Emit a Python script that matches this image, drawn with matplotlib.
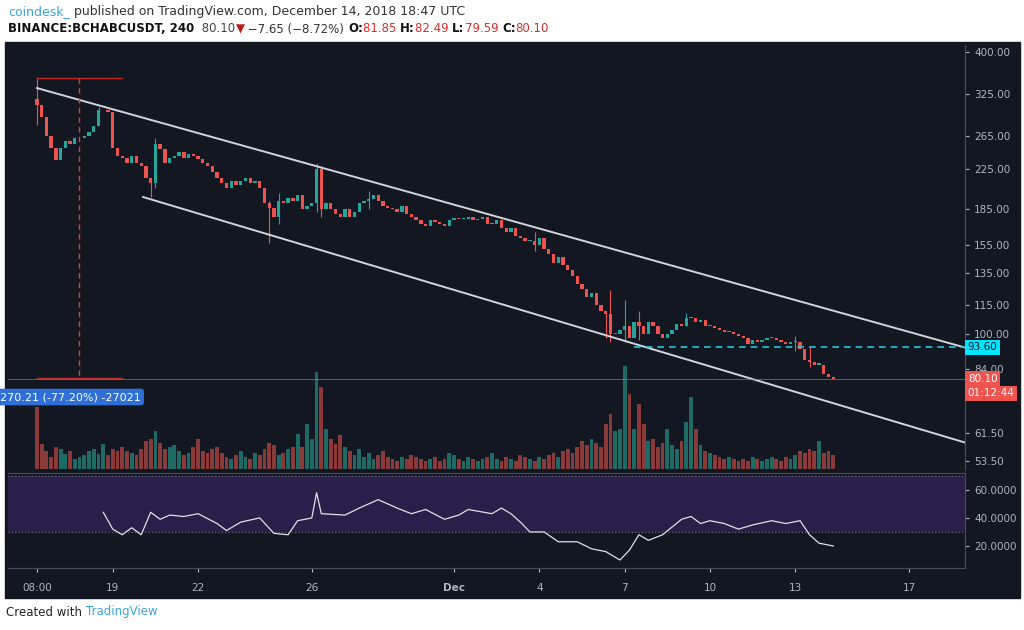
import numpy as np
import matplotlib
matplotlib.use("Agg")
import matplotlib.pyplot as plt
from matplotlib.patches import Rectangle

# 4h candles, index 0 = Nov 16 08:00
closes = [308, 290, 265, 250, 235, 250, 258, 255, 262, 262,
          265, 270, 278, 300, 300, 298, 250, 240, 238, 232,
          240, 232, 228, 215, 210, 255, 248, 232, 238, 240,
          245, 238, 242, 240, 236, 232, 228, 222, 215, 210,
          205, 212, 208, 212, 215, 210, 212, 205, 190, 186,
          178, 192, 190, 195, 192, 198, 185, 188, 190, 225,
          185, 190, 185, 180, 178, 185, 178, 182, 190, 192,
          194, 198, 192, 188, 186, 185, 182, 188, 180, 178,
          175, 172, 170, 175, 173, 172, 170, 175, 177, 176,
          176, 178, 175, 176, 178, 172, 172, 175, 168, 165,
          168, 162, 160, 158, 158, 155, 160, 152, 148, 142,
          146, 140, 137, 133, 128, 125, 120, 122, 115, 112,
          110, 100, 100, 102, 104, 98, 106, 104, 100, 106,
          104, 100, 98, 100, 102, 105, 104, 108, 108, 106,
          107, 104, 104, 103, 102, 101, 101, 100, 99, 98,
          95, 97, 96, 97, 98, 98, 97, 96, 95, 96,
          96, 93, 88, 87, 86, 86, 82, 81, 80.1]
first_open = 318

# notable wicks: index, high, low
wick_idx = [0, 13, 24, 25, 49, 51, 59, 60, 70, 105, 120, 121, 124, 127, 137, 160, 163]
wick_high = [352, 305, 215, 262, 192, 200, 232, 228, 202, 165, 112, 124, 118, 112, 111, 99, 94]
wick_low = [280, 285, 196, 205, 156, 172, 182, 178, 185, 150, 98, 96, 96, 97, 104, 92, 85]

volumes = [62, 25, 18, 12, 22, 20, 15, 18, 10, 12,
           14, 18, 20, 15, 25, 14, 20, 18, 22, 18,
           16, 14, 20, 28, 30, 38, 26, 20, 22, 24,
           18, 14, 16, 22, 30, 18, 16, 20, 22, 16,
           12, 10, 14, 18, 12, 10, 16, 14, 20, 26,
           24, 14, 16, 20, 22, 35, 22, 45, 30, 97,
           82, 40, 30, 25, 34, 22, 18, 14, 20, 12,
           16, 10, 14, 18, 12, 10, 8, 12, 10, 14,
           12, 10, 8, 10, 12, 8, 10, 16, 14, 10,
           8, 12, 10, 8, 10, 12, 16, 10, 8, 12,
           10, 8, 14, 12, 10, 8, 12, 10, 14, 16,
           12, 18, 20, 16, 22, 28, 24, 30, 26, 22,
           45, 55, 38, 40, 103, 75, 40, 65, 45, 28,
           30, 22, 26, 40, 24, 20, 28, 47, 72, 40,
           24, 18, 16, 14, 12, 10, 12, 10, 8, 10,
           8, 12, 10, 8, 10, 12, 10, 8, 12, 10,
           14, 18, 16, 20, 18, 28, 16, 18, 14]

rsi_idx = [14, 16, 18, 20, 22, 24, 26, 28, 31, 34, 38, 40, 43, 47, 50, 53, 55, 58, 59,
           60, 65, 68, 72, 76, 79, 82, 86, 89, 91, 96, 98, 100, 102, 104, 107, 110,
           114, 117, 120, 123, 125, 127, 129, 132, 136, 138, 140, 142, 145, 148, 151,
           155, 158, 161, 163, 165, 168]
rsi_val = [44, 32, 28, 33, 28, 44, 39, 42, 41, 43, 36, 31, 37, 40, 29, 28, 38, 40, 58,
           43, 42, 47, 53, 47, 43, 46, 39, 42, 46, 43, 47, 43, 37, 30, 30, 23,
           23, 18, 16, 10, 17, 28, 24, 28, 39, 41, 36, 38, 36, 32, 35,
           38, 36, 38, 28, 22, 20]

price_ticks = [400, 325, 265, 225, 185, 155, 135, 115, 100, 84, 61.5, 53.5]
date_pos = [0, 16, 34, 58, 88, 106, 124, 142, 160, 184]
date_labels = ["08:00", "19", "22", "26", "Dec", "4", "7", "10", "13", "17"]

BG = "#131722"
UP, DN = "#26a69a", "#ef5350"
VUP, VDN = "#1e6b65", "#8b3a3a"
GRID_TXT = "#b2b5be"

fig = plt.figure(figsize=(10.24, 6.3), dpi=100)
fig.patch.set_facecolor("white")
fig.patches.append(Rectangle((5 / 1024, 1 - 598 / 630), 1015 / 1024, 556 / 630,
                             transform=fig.transFigure, color=BG, zorder=-5))

ax = fig.add_axes([8 / 1024, 1 - 470 / 630, 957 / 1024, 425 / 630])
axv = ax.twinx()
ax.set_zorder(axv.get_zorder() + 1)
ax.patch.set_visible(False)
axv.patch.set_facecolor(BG)

n = len(closes)
opens = [first_open] + closes[:-1]
xs = np.arange(n)

# volume
vcol = [VUP if c >= o else VDN for o, c in zip(opens, closes)]
axv.bar(xs, volumes, width=0.8, color=vcol)
axv.set_ylim(-1, 425)
axv.set_yticks([])

# candles
for i in range(n):
    o, c = opens[i], closes[i]
    col = UP if c >= o else DN
    lo, hi = min(o, c), max(o, c)
    if i in wick_idx:
        k = wick_idx.index(i)
        ax.vlines(i, wick_low[k], wick_high[k], color=col, lw=0.8)
    ax.bar(i, hi - lo if hi > lo else 0.5, bottom=lo, width=0.7, color=col)

ax.set_yscale("log")
ax.set_ylim(51.2, 414)
ax.set_xlim(-6.1, 195.8)

# channel
ax.plot([0, 195.8], [335, 93.5], color="#d1d4dc", lw=1.4)
ax.plot([22.4, 195.8], [196, 58.6], color="#d1d4dc", lw=1.4)

# measure tool
ax.plot([0, 18], [352, 352], color="#c62828", lw=1)
ax.plot([0, 18], [80.4, 80.4], color="#c62828", lw=1)
ax.plot([8.9, 8.9], [352, 80.4], color="#e53935", lw=1, ls=(0, (4, 3)))

# price lines
ax.axhline(80.10, color=DN, lw=0.6, alpha=0.8)
ax.plot([126, 195.8], [93.6, 93.6], color="#26c6da", lw=1.2, ls=(0, (4, 3)))

ax.set_yticks(price_ticks)
ax.set_yticklabels([f"{v:.2f}" for v in price_ticks])
ax.minorticks_off()
ax.yaxis.tick_right()
ax.tick_params(axis="y", colors=GRID_TXT, labelsize=7.5, length=3)
ax.set_xticks([])
for a in (ax, axv):
    for s in a.spines.values():
        s.set_visible(False)
ax.spines["right"].set_visible(True)
ax.spines["right"].set_color("#4a4e5a")

box = dict(boxstyle="square,pad=0.25", lw=0)
ax.text(1.003, 93.6, "93.60", transform=ax.get_yaxis_transform(), va="center", ha="left",
        fontsize=7.5, color="#131722", bbox=dict(box, fc="#00e5ff"))
ax.text(1.003, 80.10, "80.10", transform=ax.get_yaxis_transform(), va="center", ha="left",
        fontsize=7.5, color="white", bbox=dict(box, fc=DN))
ax.text(1.003, 74.6, "01:12:44", transform=ax.get_yaxis_transform(), va="center", ha="left",
        fontsize=7.5, color="white", bbox=dict(box, fc=DN))
ax.text(-0.0085, 73.3, "270.21 (-77.20%) -27021", transform=ax.get_yaxis_transform(),
        va="center", ha="left", fontsize=8, color="white",
        bbox=dict(boxstyle="round,pad=0.3", fc="#2f6fd6", lw=0))

# RSI
ar = fig.add_axes([8 / 1024, 1 - 568 / 630, 957 / 1024, 95 / 630])
ar.set_facecolor(BG)
ar.set_xlim(ax.get_xlim())
ar.set_ylim(4.3, 72)
ar.axhspan(30, 70, color="#2a1f4a", lw=0)
for lvl in (70, 30):
    ar.axhline(lvl, color="#787b86", lw=0.8, ls=(0, (1, 2)))
ar.plot(rsi_idx, rsi_val, color="#e0e0e8", lw=0.9)
ar.yaxis.tick_right()
ar.set_yticks([20, 40, 60])
ar.set_yticklabels(["20.0000", "40.0000", "60.0000"])
ar.tick_params(axis="y", colors=GRID_TXT, labelsize=7.5, length=3)
ar.set_xticks(date_pos)
ar.set_xticklabels(date_labels)
ar.tick_params(axis="x", colors=GRID_TXT, labelsize=7.5, length=3, pad=8)
for lab in ar.get_xticklabels():
    if lab.get_text() == "Dec":
        lab.set_fontweight("bold")
for s in ar.spines.values():
    s.set_visible(False)
for side in ("right", "top", "bottom"):
    ar.spines[side].set_visible(True)
    ar.spines[side].set_color("#4a4e5a")


def text_run(x_px, y_px, pieces, size):
    # place text pieces one after another on a line
    r = fig.canvas.get_renderer()
    x = x_px
    for s, col, bold in pieces:
        t = fig.text(x / 1024, 1 - y_px / 630, s, color=col, fontsize=size, va="center",
                     fontweight="bold" if bold else "normal")
        x += t.get_window_extent(r).width


text_run(8, 12, [("coindesk_", "#3ba3d9", False),
                 (" published on TradingView.com, December 14, 2018 18:47 UTC", "#333333", False)], 9)
text_run(8, 29, [("BINANCE:BCHABCUSDT, 240 ", "#111111", True),
                 (" 80.10", "#444444", False), ("\u25bc", "#b71c1c", False),
                 (" \u22127.65 (\u22128.72%) ", "#333333", False),
                 ("O:", "#111111", True), ("81.85 ", "#d32f2f", False),
                 ("H:", "#111111", True), ("82.49 ", "#d32f2f", False),
                 ("L:", "#111111", True), ("79.59 ", "#d32f2f", False),
                 ("C:", "#111111", True), ("80.10", "#d32f2f", False)], 8.5)
text_run(6, 612, [("Created with ", "#222222", False), ("TradingView", "#3ba3d9", False)], 8.5)

fig.savefig("out.png", dpi=100, facecolor=fig.get_facecolor())
